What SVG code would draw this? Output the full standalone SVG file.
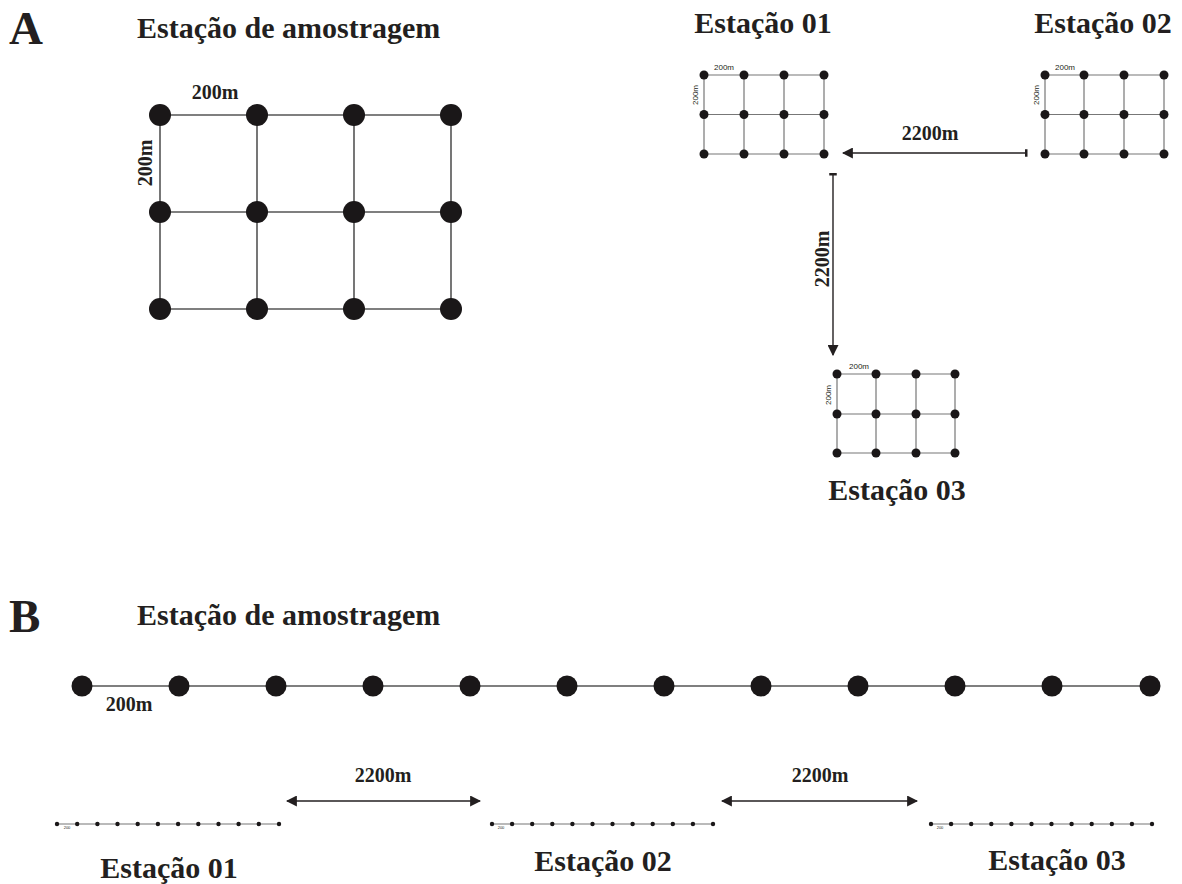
<svg xmlns="http://www.w3.org/2000/svg" width="1182" height="884" viewBox="0 0 1182 884">
<style>
.t{font-family:"Liberation Serif","Times New Roman",serif;font-weight:bold;fill:#231f20}
.s{font-family:"Liberation Sans",Arial,sans-serif;fill:#231f20}
.g{stroke:#555;stroke-width:1.6;fill:none}
.gs{stroke:#777;stroke-width:1.2;fill:none}
.d{fill:#1a1718}
.a{stroke:#231f20;stroke-width:1.4;fill:none}
</style>
<defs>
<marker id="ah" viewBox="0 0 10 10" refX="9" refY="5" markerWidth="11" markerHeight="11" markerUnits="userSpaceOnUse" orient="auto-start-reverse"><path d="M0,0 L10,5 L0,10 z" fill="#231f20"/></marker>
<marker id="tb" viewBox="0 0 4 10" refX="2" refY="5" markerWidth="3" markerHeight="9" markerUnits="userSpaceOnUse" orient="auto"><rect x="0" y="0" width="4" height="10" fill="#231f20"/></marker>
</defs>
<rect width="1182" height="884" fill="#fff"/>
<text class="t" x="9" y="44" font-size="47">A</text>
<text class="t" x="137" y="38" font-size="30">Estação de amostragem</text>
<g id="gridA">
<path class="g" d="M160,115H451M160,212H451M160,309H451M160,115V309M257,115V309M354,115V309M451,115V309"/>
<g class="d">
<circle cx="160" cy="115" r="11"/><circle cx="257" cy="115" r="11"/><circle cx="354" cy="115" r="11"/><circle cx="451" cy="115" r="11"/>
<circle cx="160" cy="212" r="11"/><circle cx="257" cy="212" r="11"/><circle cx="354" cy="212" r="11"/><circle cx="451" cy="212" r="11"/>
<circle cx="160" cy="309" r="11"/><circle cx="257" cy="309" r="11"/><circle cx="354" cy="309" r="11"/><circle cx="451" cy="309" r="11"/>
</g>
<text class="t" x="215" y="99" font-size="20" text-anchor="middle">200m</text>
<text class="t" x="0" y="0" font-size="20" text-anchor="middle" transform="translate(152,163) rotate(-90)">200m</text>
</g>
<g id="st01">
<text class="t" x="763" y="33" font-size="30" text-anchor="middle">Estação 01</text>
<path class="gs" d="M704,75H824M704,114.5H824M704,154H824M704,75V154M744,75V154M784,75V154M824,75V154"/>
<g class="d">
<circle cx="704" cy="75" r="4.5"/><circle cx="744" cy="75" r="4.5"/><circle cx="784" cy="75" r="4.5"/><circle cx="824" cy="75" r="4.5"/>
<circle cx="704" cy="114.5" r="4.5"/><circle cx="744" cy="114.5" r="4.5"/><circle cx="784" cy="114.5" r="4.5"/><circle cx="824" cy="114.5" r="4.5"/>
<circle cx="704" cy="154" r="4.5"/><circle cx="744" cy="154" r="4.5"/><circle cx="784" cy="154" r="4.5"/><circle cx="824" cy="154" r="4.5"/>
</g>
<text class="s" x="724" y="70" font-size="8" text-anchor="middle">200m</text>
<text class="s" x="0" y="0" font-size="8" text-anchor="middle" transform="translate(698,95) rotate(-90)">200m</text>
</g>
<g id="st02">
<text class="t" x="1103" y="33" font-size="30" text-anchor="middle">Estação 02</text>
<path class="gs" d="M1045,75H1164M1045,114.5H1164M1045,154H1164M1045,75V154M1084,75V154M1124,75V154M1164,75V154"/>
<g class="d">
<circle cx="1045" cy="75" r="4.5"/><circle cx="1084" cy="75" r="4.5"/><circle cx="1124" cy="75" r="4.5"/><circle cx="1164" cy="75" r="4.5"/>
<circle cx="1045" cy="114.5" r="4.5"/><circle cx="1084" cy="114.5" r="4.5"/><circle cx="1124" cy="114.5" r="4.5"/><circle cx="1164" cy="114.5" r="4.5"/>
<circle cx="1045" cy="154" r="4.5"/><circle cx="1084" cy="154" r="4.5"/><circle cx="1124" cy="154" r="4.5"/><circle cx="1164" cy="154" r="4.5"/>
</g>
<text class="s" x="1065" y="70" font-size="8" text-anchor="middle">200m</text>
<text class="s" x="0" y="0" font-size="8" text-anchor="middle" transform="translate(1039,95) rotate(-90)">200m</text>
</g>
<g id="st03">
<text class="t" x="897" y="500" font-size="30" text-anchor="middle">Estação 03</text>
<path class="gs" d="M837,374H955M837,414H955M837,453H955M837,374V453M876,374V453M916,374V453M955,374V453"/>
<g class="d">
<circle cx="837" cy="374" r="4.5"/><circle cx="876" cy="374" r="4.5"/><circle cx="916" cy="374" r="4.5"/><circle cx="955" cy="374" r="4.5"/>
<circle cx="837" cy="414" r="4.5"/><circle cx="876" cy="414" r="4.5"/><circle cx="916" cy="414" r="4.5"/><circle cx="955" cy="414" r="4.5"/>
<circle cx="837" cy="453" r="4.5"/><circle cx="876" cy="453" r="4.5"/><circle cx="916" cy="453" r="4.5"/><circle cx="955" cy="453" r="4.5"/>
</g>
<text class="s" x="859" y="369" font-size="8" text-anchor="middle">200m</text>
<text class="s" x="0" y="0" font-size="8" text-anchor="middle" transform="translate(831,395) rotate(-90)">200m</text>
</g>
<g id="connectors">
<line class="a" x1="1026" y1="153" x2="843" y2="153" marker-start="url(#tb)" marker-end="url(#ah)"/>
<line class="a" x1="833" y1="174" x2="833" y2="355" marker-start="url(#tb)" marker-end="url(#ah)"/>
<line class="a" x1="287" y1="801" x2="480" y2="801" marker-start="url(#ah)" marker-end="url(#ah)"/>
<line class="a" x1="722" y1="801" x2="917" y2="801" marker-start="url(#ah)" marker-end="url(#ah)"/>
</g>
<text class="t" x="930" y="140" font-size="20" text-anchor="middle">2200m</text>
<text class="t" x="0" y="0" font-size="20" text-anchor="middle" transform="translate(829,259) rotate(-90)">2200m</text>
<text class="t" x="383" y="782" font-size="20" text-anchor="middle">2200m</text>
<text class="t" x="820" y="782" font-size="20" text-anchor="middle">2200m</text>
<text class="t" x="9" y="632" font-size="47">B</text>
<text class="t" x="137" y="625" font-size="30">Estação de amostragem</text>
<g id="lineB">
<line class="g" x1="82" y1="686" x2="1150" y2="686"/>
<g class="d">
<circle cx="82" cy="686" r="10.5"/><circle cx="179" cy="686" r="10.5"/><circle cx="276" cy="686" r="10.5"/><circle cx="373" cy="686" r="10.5"/>
<circle cx="470" cy="686" r="10.5"/><circle cx="567" cy="686" r="10.5"/><circle cx="664" cy="686" r="10.5"/><circle cx="761" cy="686" r="10.5"/>
<circle cx="858" cy="686" r="10.5"/><circle cx="955" cy="686" r="10.5"/><circle cx="1052" cy="686" r="10.5"/><circle cx="1150" cy="686" r="10.5"/>
</g>
<text class="t" x="129" y="711" font-size="20" text-anchor="middle">200m</text>
</g>
<g id="b01">
<line class="gs" x1="57" y1="824" x2="279" y2="824"/>
<g class="d">
<circle cx="57" cy="824" r="2.2"/><circle cx="77.2" cy="824" r="2.2"/><circle cx="97.4" cy="824" r="2.2"/><circle cx="117.5" cy="824" r="2.2"/><circle cx="137.7" cy="824" r="2.2"/><circle cx="157.9" cy="824" r="2.2"/><circle cx="178.1" cy="824" r="2.2"/><circle cx="198.3" cy="824" r="2.2"/><circle cx="218.5" cy="824" r="2.2"/><circle cx="238.6" cy="824" r="2.2"/><circle cx="258.8" cy="824" r="2.2"/><circle cx="279" cy="824" r="2.2"/>
</g>
<text class="s" x="67" y="829" font-size="4" text-anchor="middle">200</text>
<text class="t" x="169" y="878" font-size="30" text-anchor="middle">Estação 01</text>
</g>
<g id="b02">
<line class="gs" x1="492" y1="824" x2="713" y2="824"/>
<g class="d">
<circle cx="492" cy="824" r="2.2"/><circle cx="512.1" cy="824" r="2.2"/><circle cx="532.2" cy="824" r="2.2"/><circle cx="552.3" cy="824" r="2.2"/><circle cx="572.4" cy="824" r="2.2"/><circle cx="592.5" cy="824" r="2.2"/><circle cx="612.5" cy="824" r="2.2"/><circle cx="632.6" cy="824" r="2.2"/><circle cx="652.7" cy="824" r="2.2"/><circle cx="672.8" cy="824" r="2.2"/><circle cx="692.9" cy="824" r="2.2"/><circle cx="713" cy="824" r="2.2"/>
</g>
<text class="s" x="501" y="829" font-size="4" text-anchor="middle">200</text>
<text class="t" x="603" y="871" font-size="30" text-anchor="middle">Estação 02</text>
</g>
<g id="b03">
<line class="gs" x1="931" y1="824" x2="1152" y2="824"/>
<g class="d">
<circle cx="931" cy="824" r="2.2"/><circle cx="951.1" cy="824" r="2.2"/><circle cx="971.2" cy="824" r="2.2"/><circle cx="991.3" cy="824" r="2.2"/><circle cx="1011.4" cy="824" r="2.2"/><circle cx="1031.5" cy="824" r="2.2"/><circle cx="1051.5" cy="824" r="2.2"/><circle cx="1071.6" cy="824" r="2.2"/><circle cx="1091.7" cy="824" r="2.2"/><circle cx="1111.8" cy="824" r="2.2"/><circle cx="1131.9" cy="824" r="2.2"/><circle cx="1152" cy="824" r="2.2"/>
</g>
<text class="s" x="940" y="829" font-size="4" text-anchor="middle">200</text>
<text class="t" x="1057" y="870" font-size="30" text-anchor="middle">Estação 03</text>
</g>
</svg>
